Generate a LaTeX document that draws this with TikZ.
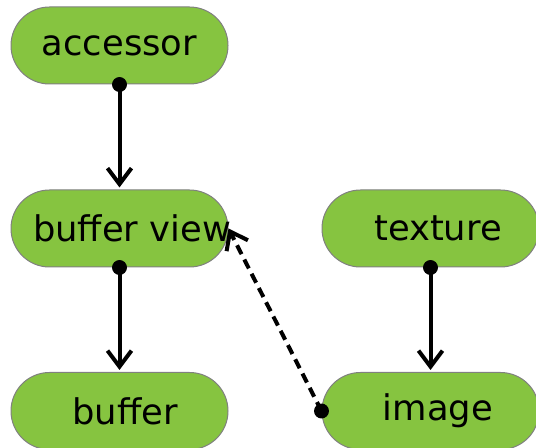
\documentclass[tikz,border=0pt]{standalone}
\usepackage{fontspec}
\setmainfont{DejaVu Sans}
\usetikzlibrary{arrows.meta}
\definecolor{pillgreen}{HTML}{86C440}
\definecolor{pillborder}{HTML}{808080}
\tikzset{
  pill/.style={draw=pillborder, line width=0.75pt, fill=pillgreen,
    rounded corners=28.8pt, minimum width=162.75pt, minimum height=57.75pt,
    inner sep=0pt},
  lbl/.style={font=\fontsize{26.5}{30}\selectfont, inner sep=0pt},
  link/.style={line width=3pt, -{Straight Barb[length=12pt,width=18pt]}},
  weak/.style={link, dash pattern=on 7.5pt off 4.5pt},
  dot/.style={fill=black}
}
\begin{document}
\begin{tikzpicture}[x=0.75pt, y=-0.75pt]
  \useasboundingbox (0,0) rectangle (536,448);
  \clip (0,0) rectangle (536,448);
  % boxes
  \node[pill, label={[lbl]center:accessor}] (acc) at (119.5,45.5) {};
  \node[pill, label={[lbl, xshift=9.4pt]center:buffer view}] (bv) at (119.5,228.5) {};
  \node[pill, label={[lbl, xshift=4.1pt]center:buffer}] (buf) at (119.5,411) {};
  \node[pill, label={[lbl, xshift=5.6pt]center:texture}] (tex) at (430.5,228.5) {};
  \node[pill, label={[lbl, xshift=5.6pt]center:image}] (img) at (430.5,411) {};
  % references
  \draw[link] (acc.south) -- ([yshift=1.5pt]bv.north);
  \draw[link] (bv.south) -- ([yshift=1.5pt]buf.north);
  \draw[link] (tex.south) -- ([yshift=1.5pt]img.north);
  \draw[weak] (img.west) -- (bv.east);
  % anchor dots
  \fill[dot] (acc.south) circle (5.6pt);
  \fill[dot] (bv.south) circle (5.6pt);
  \fill[dot] (tex.south) circle (5.6pt);
  \fill[dot] (img.west) circle (5.6pt);
\end{tikzpicture}
\end{document}
